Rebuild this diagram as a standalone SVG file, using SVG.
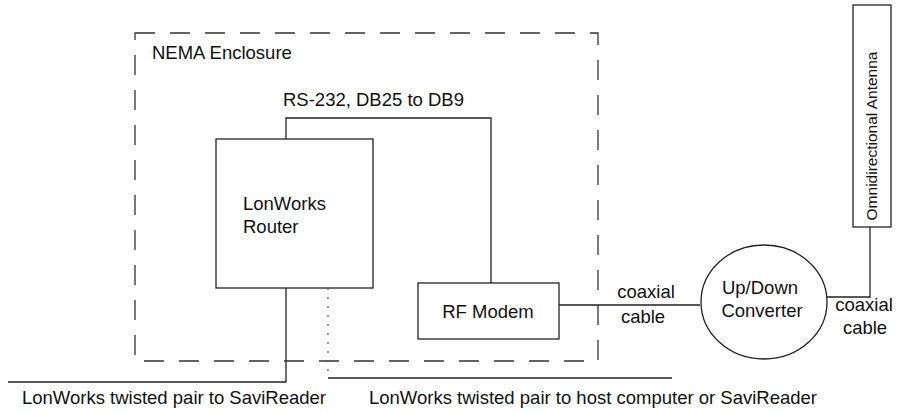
<svg xmlns="http://www.w3.org/2000/svg" width="904" height="413" viewBox="0 0 904 413">
<style>
text{font-family:"Liberation Sans",Arial,sans-serif;font-size:18.5px;fill:#111}
.box{fill:none;stroke:#222;stroke-width:1.3}
.encl{fill:none;stroke:#333;stroke-width:1.3;stroke-dasharray:20 15}
.wire{fill:none;stroke:#222;stroke-width:1.3}
.dot{fill:none;stroke:#555;stroke-width:1.2;stroke-dasharray:2 7}
.mid{text-anchor:middle}
</style>
<rect width="904" height="413" fill="#fff"/>
<g id="enclosure">
<rect class="encl" x="135" y="33" width="463" height="328"/>
<text x="152" y="59">NEMA Enclosure</text>
</g>
<g id="router">
<rect class="box" x="216" y="139" width="157" height="149"/>
<text x="243" y="210">LonWorks</text>
<text x="243" y="233">Router</text>
</g>
<g id="rfmodem">
<rect class="box" x="418" y="283" width="141" height="56"/>
<text class="mid" x="488" y="318">RF Modem</text>
</g>
<g id="converter">
<ellipse class="box" cx="764" cy="302" rx="63" ry="57"/>
<text class="mid" x="760" y="294">Up/Down</text>
<text class="mid" x="762" y="317">Converter</text>
</g>
<g id="antenna">
<rect class="box" x="853" y="5" width="38" height="222"/>
<text class="mid" transform="translate(877,136) rotate(-90)" style="font-size:15.5px">Omnidirectional Antenna</text>
</g>
<g id="connectors">
<path class="wire" d="M286,139 V118 H491 V283"/>
<text x="283" y="106">RS-232, DB25 to DB9</text>
<path class="wire" d="M559,305 H700"/>
<text class="mid" x="646" y="298">coaxial</text>
<text class="mid" x="643" y="323">cable</text>
<path class="wire" d="M827,297 H870 V227"/>
<text class="mid" x="864" y="311">coaxial</text>
<text class="mid" x="865" y="334">cable</text>
<path class="wire" d="M286,288 V382 M8,382 H286"/>
<path class="dot" d="M328,288 V378"/>
<path class="wire" d="M328,378 H672"/>
<text x="22" y="404">LonWorks twisted pair to SaviReader</text>
<text x="369" y="404">LonWorks twisted pair to host computer or SaviReader</text>
</g>
</svg>
